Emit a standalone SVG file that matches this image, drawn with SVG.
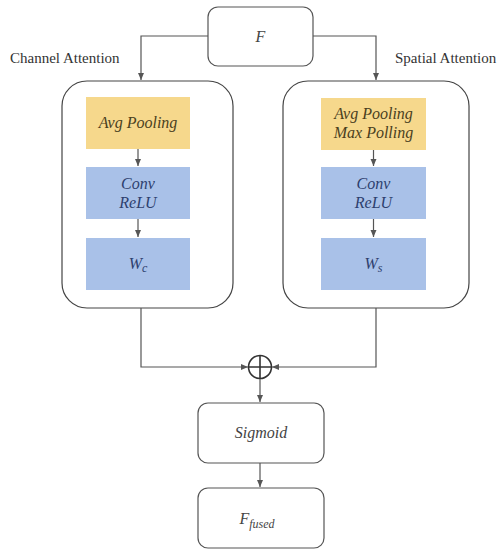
<svg xmlns="http://www.w3.org/2000/svg" width="498" height="550" viewBox="0 0 498 550">
<style>
.box{fill:#ffffff;stroke:#555;stroke-width:1.2}
.cont{fill:#ffffff;stroke:#444;stroke-width:1.2}
.yel{fill:#f6d88c}
.blu{fill:#a9c1e8}
text{font-family:'Liberation Serif','Tinos','DejaVu Serif','Times New Roman',serif}
.t{font-style:italic;font-size:16px;text-anchor:middle}
.ty{fill:#4a3f1e}
.tb{fill:#2d3f6e}
.tw{fill:#444}
.lab{font-size:15px;fill:#333}
.ln{fill:none;stroke:#555;stroke-width:1.2}
</style>
<defs>
<marker id="ah" markerWidth="8" markerHeight="8" refX="7" refY="4" orient="auto" markerUnits="userSpaceOnUse">
<path d="M0,1 L7,4 L0,7 Z" fill="#555"/>
</marker>
</defs>
<rect width="498" height="550" fill="#ffffff"/>
<text class="lab" x="10" y="63">Channel Attention</text>
<text class="lab" x="395" y="63">Spatial Attention</text>
<g id="F"><rect class="box" x="208" y="7" width="105" height="59" rx="10"/><text class="t tw" x="260.5" y="42">F</text></g>
<g id="channel"><rect class="cont" x="62" y="81" width="171" height="227" rx="25"/></g>
<g id="spatial"><rect class="cont" x="283" y="81" width="186" height="227" rx="25"/></g>
<g id="avg_c"><rect class="yel" x="86" y="97" width="104" height="52"/><text class="t ty" x="138" y="128">Avg Pooling</text></g>
<g id="conv_c"><rect class="blu" x="86" y="167" width="104" height="52"/><text class="t tb" x="138" y="189">Conv</text><text class="t tb" x="138" y="208">ReLU</text></g>
<g id="wc"><rect class="blu" x="86" y="238" width="104" height="52"/><text class="t tb" x="138" y="269">W<tspan font-size="12" dy="3">c</tspan></text></g>
<g id="avg_s"><rect class="yel" x="321" y="98" width="105" height="52"/><text class="t ty" x="373.5" y="119">Avg Pooling</text><text class="t ty" x="373.5" y="138">Max Polling</text></g>
<g id="conv_s"><rect class="blu" x="321" y="167" width="105" height="52"/><text class="t tb" x="373.5" y="189">Conv</text><text class="t tb" x="373.5" y="208">ReLU</text></g>
<g id="ws"><rect class="blu" x="321" y="238" width="105" height="52"/><text class="t tb" x="373.5" y="269">W<tspan font-size="12" dy="3">s</tspan></text></g>
<g id="add"><circle cx="260" cy="367" r="11.5" fill="#fff" stroke="#333" stroke-width="1.6"/><path d="M248.5,367 H271.5 M260,355.5 V378.5" stroke="#333" stroke-width="1.6"/></g>
<g id="sigmoid"><rect class="box" x="198" y="403" width="126" height="60" rx="10"/><text class="t tw" x="261" y="438">Sigmoid</text></g>
<g id="ffused"><rect class="box" x="198" y="488" width="126" height="60" rx="10"/><text class="t tw" x="257" y="524">F<tspan font-size="12" dy="4">fused</tspan></text></g>
<g id="connectors">
<path class="ln" d="M208,36 H141 V80" marker-end="url(#ah)"/>
<path class="ln" d="M313,36 H376 V80" marker-end="url(#ah)"/>
<path class="ln" d="M138,149 V166" marker-end="url(#ah)"/>
<path class="ln" d="M138,219 V237" marker-end="url(#ah)"/>
<path class="ln" d="M373.5,150 V166" marker-end="url(#ah)"/>
<path class="ln" d="M373.5,219 V237" marker-end="url(#ah)"/>
<path class="ln" d="M141,308 V367 H248" marker-end="url(#ah)"/>
<path class="ln" d="M376,308 V367 H272" marker-end="url(#ah)"/>
<path class="ln" d="M260,379 V402" marker-end="url(#ah)"/>
<path class="ln" d="M260,463 V487" marker-end="url(#ah)"/>
</g>
</svg>
